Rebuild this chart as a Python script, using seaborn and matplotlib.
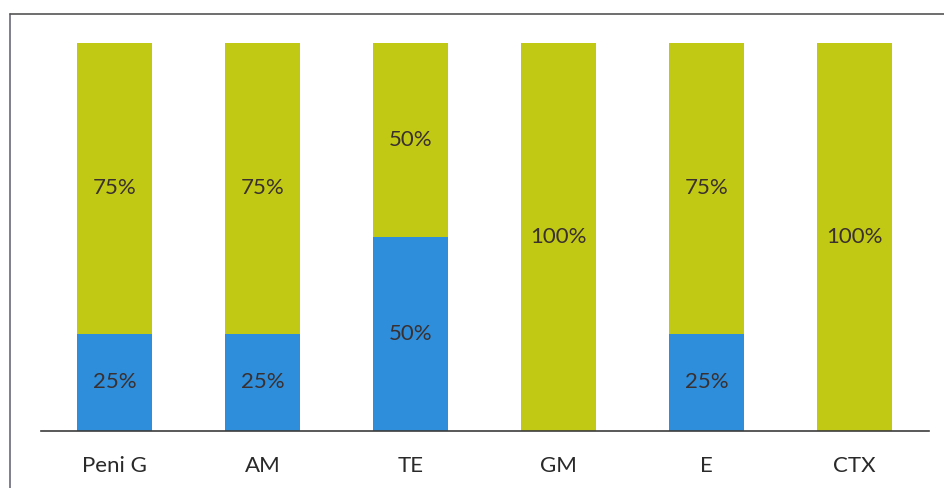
import matplotlib
matplotlib.use("Agg")
import matplotlib.pyplot as plt
from matplotlib.lines import Line2D
import seaborn as sns
import pandas as pd
import numpy as np

# Antibiotics tested and the share of isolates in each class (percent)
antibiotics = ["Peni G", "AM", "TE", "GM", "E", "CTX"]
resistant_pct = [25, 25, 50, 0, 25, 0]
sensitive_pct = [75, 75, 50, 100, 75, 100]

blue = "#2E8EDB"
green = "#C2C914"
text_color = "#3A3030"

sns.set_theme(style="white")
plt.rcParams["font.family"] = ["Lato", "DejaVu Sans"]

df = pd.DataFrame({
    "antibiotic": antibiotics,
    "resistant": resistant_pct,
    "sensitive": sensitive_pct,
})
df["total"] = df["resistant"] + df["sensitive"]

fig = plt.figure(figsize=(9.44, 4.88), dpi=100)
ax = fig.add_axes([40.5 / 944, 57 / 488, 888 / 944, 388 / 488])

# Stacked bars: full-height sensitive layer, resistant layer drawn over it
sns.barplot(data=df, x="antibiotic", y="total", color=green, width=0.51,
            saturation=1, ax=ax, linewidth=0)
sns.barplot(data=df, x="antibiotic", y="resistant", color=blue, width=0.51,
            saturation=1, ax=ax, linewidth=0)

# Percentage labels centred in each segment
for i, (r, s) in enumerate(zip(resistant_pct, sensitive_pct)):
    if r > 0:
        ax.text(i, r / 2, f"{r}%", ha="center", va="center",
                fontsize=16, color=text_color)
    if s > 0:
        ax.text(i, r + s / 2, f"{s}%", ha="center", va="center",
                fontsize=16, color=text_color)

ax.set_xlim(-0.5, len(antibiotics) - 0.5)
ax.set_ylim(0, 100)
ax.set_xlabel("")
ax.set_ylabel("")
ax.set_yticks([])
for side in ["top", "left", "right"]:
    ax.spines[side].set_visible(False)
ax.spines["bottom"].set_color("#3c3c3c")
ax.spines["bottom"].set_linewidth(1.2)
ax.tick_params(axis="x", length=0, pad=18, labelsize=16, labelcolor="#2a2a2a")

# Frame around the chart area
fig.add_artist(Line2D([10 / 944, 10 / 944], [0, 1 - 14 / 488],
                      transform=fig.transFigure, color="#6a6a78", lw=1.2))
fig.add_artist(Line2D([10 / 944, 1.0], [1 - 14 / 488, 1 - 14 / 488],
                      transform=fig.transFigure, color="#555555", lw=1.2))

fig.savefig("out.png", dpi=100, facecolor="white")
